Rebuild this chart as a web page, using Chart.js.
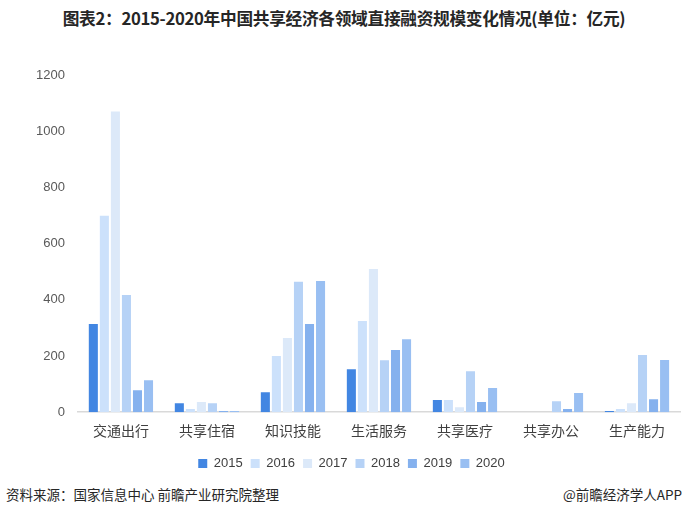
<!DOCTYPE html>
<html>
<head>
<meta charset="utf-8">
<script src="https://cdn.jsdelivr.net/npm/chart.js@4/dist/chart.umd.min.js"></script>
<style>
  body { margin: 0; background: #fff; font-family: "Noto Sans CJK SC", sans-serif; }
  #wrap { position: relative; width: 688px; height: 516px; overflow: hidden; }
  #title { position: absolute; top: 6px; left: 0; width: 688px; text-align: center;
    font-size: 16.7px; font-weight: bold; color: #262626; letter-spacing: -0.3px; }
  #box { position: absolute; left: 0; top: 50px; width: 688px; height: 430px; }
  .foot { position: absolute; top: 484px; font-size: 13.5px; color: #262626; }
</style>
</head>
<body>
<div id="wrap">
  <div id="title">图表2：2015-2020年中国共享经济各领域直接融资规模变化情况(单位：亿元)</div>
  <div id="box"><canvas id="myChart"></canvas></div>
  <div class="foot" style="left:6px">资料来源：国家信息中心 前瞻产业研究院整理</div>
  <div class="foot" style="right:6px">@前瞻经济学人APP</div>
</div>
<script>
// categories and yearly values (亿元)
var categories = ["交通出行", "共享住宿", "知识技能", "生活服务", "共享医疗", "共享办公", "生产能力"];
var years = ["2015", "2016", "2017", "2018", "2019", "2020"];
var v2015 = [314, 32, 71, 153, 43, 0, 4];
var v2016 = [699, 11, 200, 325, 43, 0, 11];
var v2017 = [1070, 36, 264, 510, 18, 0, 32];
var v2018 = [417, 32, 464, 185, 146, 39, 204];
var v2019 = [78, 4, 314, 221, 36, 11, 46];
var v2020 = [114, 4, 467, 260, 86, 68, 186];
var yTicks = [0, 200, 400, 600, 800, 1000, 1200];

var colors = ["#4286e2", "#cce1fb", "#dce9f9", "#b6d2f6", "#85b1ee", "#99bff2"];
var series = [v2015, v2016, v2017, v2018, v2019, v2020];

var datasets = years.map(function(y, i) {
  return {
    label: y,
    data: series[i],
    backgroundColor: colors[i],
    borderWidth: 0,
    categoryPercentage: 0.77,
    barPercentage: 0.82
  };
});

var ctx = document.getElementById('myChart').getContext('2d');
var chart = new Chart(ctx, {
  type: 'bar',
  data: { labels: categories, datasets: datasets },
  options: {
    responsive: true,
    maintainAspectRatio: false,
    animation: false,
    layout: { padding: { left: 23, right: 8, top: 25, bottom: 0 } },
    plugins: {
      legend: {
        position: 'bottom',
        labels: {
          boxWidth: 9, boxHeight: 9, padding: 8,
          color: '#404040',
          font: { size: 13, family: 'Liberation Sans, Arial, sans-serif' }
        }
      },
      tooltip: { enabled: false }
    },
    scales: {
      x: {
        grid: { display: false, drawTicks: false },
        border: { color: '#d9d9d9', width: 1.5 },
        ticks: { color: '#404040', padding: 10, font: { size: 14, family: 'Noto Sans CJK SC' } }
      },
      y: {
        min: 0, max: 1200,
        afterBuildTicks: function(axis) {
          axis.ticks = yTicks.map(function(t) { return { value: t }; });
        },
        grid: { display: false, drawTicks: false },
        border: { display: false },
        ticks: {
          color: '#595959', padding: 13,
          font: { size: 13, family: 'Liberation Sans, Arial, sans-serif' },
          callback: function(v) { return String(v); }
        }
      }
    }
  }
});
</script>
</body>
</html>
